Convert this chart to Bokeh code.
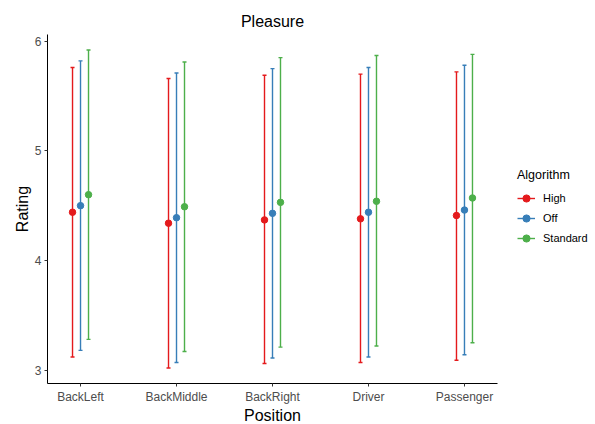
from bokeh.plotting import figure
from bokeh.models import ColumnDataSource, FixedTicker, Legend, LegendItem, Range1d
from bokeh.embed import file_html
from bokeh.resources import INLINE

positions = ["BackLeft", "BackMiddle", "BackRight", "Driver", "Passenger"]
algorithms = ["High", "Off", "Standard"]
colors = ["#E41A1C", "#377EB8", "#4DAF4A"]

high_mean = [4.44, 4.34, 4.37, 4.38, 4.41]
high_lower = [3.12, 3.02, 3.06, 3.07, 3.09]
high_upper = [5.76, 5.66, 5.69, 5.70, 5.72]

off_mean = [4.50, 4.39, 4.43, 4.44, 4.46]
off_lower = [3.18, 3.07, 3.11, 3.12, 3.14]
off_upper = [5.82, 5.71, 5.75, 5.76, 5.78]

std_mean = [4.60, 4.49, 4.53, 4.54, 4.57]
std_lower = [3.28, 3.17, 3.21, 3.22, 3.25]
std_upper = [5.92, 5.81, 5.85, 5.87, 5.88]

y_ticks = [3, 4, 5, 6]

series = [
    (high_mean, high_lower, high_upper),
    (off_mean, off_lower, off_upper),
    (std_mean, std_lower, std_upper),
]

FONT = "Liberation Sans"
dodge_step = 0.0833

p = figure(frame_width=450, frame_height=349, output_backend="svg", toolbar_location=None,
           x_range=Range1d(0.656, 5.344), y_range=Range1d(2.878, 6.061),
           title="Pleasure",
           min_border_left=47, min_border_right=98, min_border_top=34, min_border_bottom=41)

p.title.align = "center"
p.title.text_font = FONT
p.title.text_font_size = "16px"
p.title.text_font_style = "normal"
p.title.text_color = "black"
p.title.standoff = 9

p.xgrid.visible = False
p.ygrid.visible = False
p.outline_line_color = None
p.background_fill_color = "white"
p.border_fill_color = "white"

p.xaxis.ticker = FixedTicker(ticks=[1, 2, 3, 4, 5])
p.xaxis.major_label_overrides = {i + 1: name for i, name in enumerate(positions)}
p.yaxis.ticker = FixedTicker(ticks=y_ticks)

for ax in (p.xaxis[0], p.yaxis[0]):
    ax.axis_line_color = "black"
    ax.axis_line_width = 1
    ax.major_tick_line_color = "#333333"
    ax.major_tick_out = 3
    ax.major_tick_in = 0
    ax.minor_tick_line_color = None
    ax.major_label_text_font = FONT
    ax.major_label_text_font_size = "12px"
    ax.major_label_text_color = "#4D4D4D"
    ax.major_label_standoff = 3
    ax.axis_label_text_font = FONT
    ax.axis_label_text_font_size = "16px"
    ax.axis_label_text_font_style = "normal"
    ax.axis_label_text_color = "black"

p.xaxis[0].axis_label_standoff = 0
p.yaxis[0].axis_label_standoff = 1

p.xaxis.axis_label = "Position"
p.yaxis.axis_label = "Rating"

items = []
for k, (alg, col, (m, lo, hi)) in enumerate(zip(algorithms, colors, series)):
    xs = [i + 1 + (k - 1) * dodge_step for i in range(len(positions))]
    src = ColumnDataSource(dict(x=xs, mean=m, lower=lo, upper=hi))
    seg = p.segment(x0="x", y0="lower", x1="x", y1="upper", source=src,
                    line_color=col, line_width=1.4)
    p.scatter(x="x", y="upper", source=src, marker="dash", size=4,
              line_color=col, line_width=1.4)
    p.scatter(x="x", y="lower", source=src, marker="dash", size=4,
              line_color=col, line_width=1.4)
    dot = p.scatter(x="x", y="mean", source=src, marker="circle", size=6.5,
                    fill_color=col, line_color=col)
    items.append(LegendItem(label=alg, renderers=[seg, dot]))

legend = Legend(items=items, location=(20, 135))
legend.title = "Algorithm"
legend.title_text_font = FONT
legend.title_text_font_size = "12.5px"
legend.title_text_font_style = "normal"
legend.title_text_color = "black"
legend.title_standoff = 6
legend.label_text_font = FONT
legend.label_text_font_size = "11px"
legend.label_text_color = "black"
legend.border_line_color = None
legend.background_fill_alpha = 0
legend.glyph_width = 18
legend.glyph_height = 20
legend.spacing = 0
legend.label_standoff = 8
legend.padding = 0
legend.margin = 0
p.add_layout(legend, "right")

open("out.html", "w").write(file_html(p, INLINE))
